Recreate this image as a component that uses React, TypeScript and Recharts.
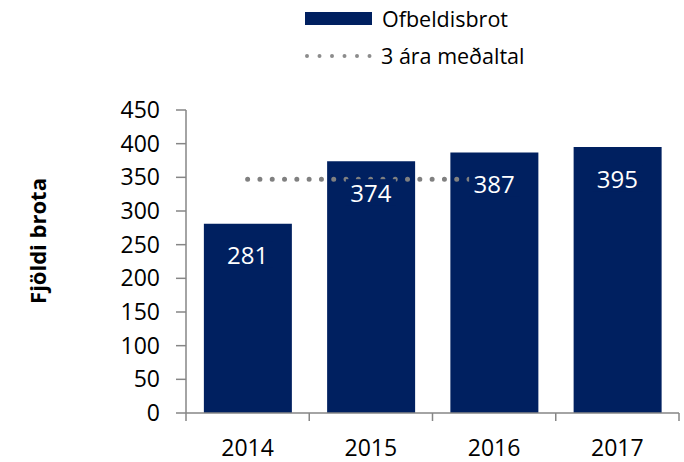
import React from 'react';
import {
  ComposedChart,
  Bar,
  Line,
  XAxis,
  YAxis,
  Legend,
  LabelList,
} from 'recharts';

const years = ['2014', '2015', '2016', '2017'];
const ofbeldisbrot = [281, 374, 387, 395];
const medaltal = [347, 347, 347, null];
const yTicks = [0, 50, 100, 150, 200, 250, 300, 350, 400, 450];

const NAVY = '#002060';
const GREY = '#868686';
const FONT = '"Open Sans", sans-serif';
const X_TICK_GAP = 29;

const data = years.map((y, i) => ({
  year: y,
  value: ofbeldisbrot[i],
  avg: medaltal[i],
}));

// label with a navy box so it hides the dotted line beneath it
const BarValue = (props: any) => {
  const { x, y, value } = props;
  if (x == null || y == null) return null;
  return (
    <g>
      <rect x={x - 25} y={y + 18} width={50} height={26} fill={NAVY} />
      <text
        x={x}
        y={y + 31}
        fill="#ffffff"
        fontSize={24}
        fontFamily={FONT}
        textAnchor="middle"
        dominantBaseline="central"
      >
        {value}
      </text>
    </g>
  );
};

// category label plus tick marks at the band edges (Excel style)
const YearTick = (props: any) => {
  const { x, y, payload, index, visibleTicksCount, width } = props;
  const half = width / visibleTicksCount / 2;
  const axisY = y - X_TICK_GAP;
  return (
    <g>
      <path
        d={`M${x - half},${axisY}V${axisY + 8}`}
        stroke={GREY}
        strokeWidth={1.5}
        fill="none"
      />
      {index === visibleTicksCount - 1 && (
        <path
          d={`M${x + half},${axisY}V${axisY + 8}`}
          stroke={GREY}
          strokeWidth={1.5}
          fill="none"
        />
      )}
      <text
        x={x}
        y={axisY + 34}
        textAnchor="middle"
        dominantBaseline="central"
        fill="#000"
        fontSize={23}
        fontFamily={FONT}
      >
        {payload.value}
      </text>
    </g>
  );
};

const renderLegend = () => (
  <div style={{ fontFamily: FONT, fontSize: 21.5, color: '#000' }}>
    <div style={{ display: 'flex', alignItems: 'center', height: 37 }}>
      <span
        style={{ display: 'inline-block', width: 67, height: 13, background: NAVY, marginRight: 10 }}
      />
      <span>Ofbeldisbrot</span>
    </div>
    <div style={{ display: 'flex', alignItems: 'center', height: 37 }}>
      <svg width={72} height={10} style={{ marginRight: 4 }}>
        <line
          x1={2}
          y1={5}
          x2={68}
          y2={5}
          stroke="#8c8c8c"
          strokeWidth={4}
          strokeDasharray="0 12.5"
          strokeLinecap="round"
        />
      </svg>
      <span>3 ára meðaltal</span>
    </div>
  </div>
);

export default function App() {
  return (
    <div style={{ position: 'absolute', left: 0, top: 0, width: 684, height: 462, background: '#fff' }}>
      <ComposedChart
        width={684}
        height={462}
        data={data}
        margin={{ top: 110, right: 5, bottom: 4, left: 0 }}
        barCategoryGap="14.5%"
      >
        <XAxis
          dataKey="year"
          height={45}
          tickLine={false}
          tickSize={0}
          tickMargin={X_TICK_GAP}
          axisLine={{ stroke: GREY, strokeWidth: 1.5 }}
          tick={YearTick}
          interval={0}
        />
        <YAxis
          width={186}
          domain={[0, 450]}
          ticks={yTicks}
          interval={0}
          tickSize={10}
          tickMargin={16}
          axisLine={{ stroke: GREY, strokeWidth: 1.5 }}
          tickLine={{ stroke: GREY, strokeWidth: 1.5 }}
          tick={{ fill: '#000', fontSize: 23, fontFamily: FONT }}
          label={() => (
            <text
              x={37}
              y={241}
              transform="rotate(-90, 37, 241)"
              textAnchor="middle"
              dominantBaseline="central"
              fontSize={22}
              fontWeight="bold"
              fontFamily={FONT}
              fill="#000"
            >
              Fjöldi brota
            </text>
          )}
        />
        <Legend
          layout="vertical"
          align="center"
          verticalAlign="middle"
          wrapperStyle={{ top: 0, left: 305, width: 280 }}
          content={renderLegend}
        />
        <Bar dataKey="value" name="Ofbeldisbrot" fill={NAVY} isAnimationActive={false} />
        <Line
          dataKey="avg"
          name="3 ára meðaltal"
          stroke="#808080"
          strokeWidth={5}
          strokeDasharray="0 12.3"
          strokeLinecap="round"
          dot={false}
          activeDot={false}
          connectNulls={false}
          isAnimationActive={false}
        />
        <Line
          dataKey="value"
          stroke="none"
          dot={false}
          activeDot={false}
          legendType="none"
          isAnimationActive={false}
        >
          <LabelList dataKey="value" content={BarValue} />
        </Line>
      </ComposedChart>
    </div>
  );
}
